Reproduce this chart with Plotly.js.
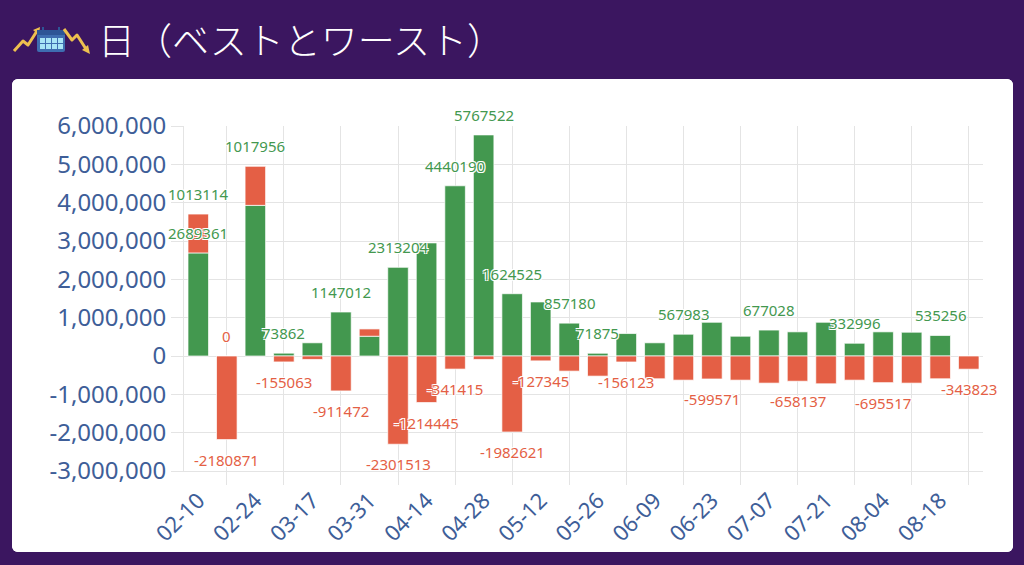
<!DOCTYPE html>
<html>
<head>
<meta charset="utf-8">
<script src="https://cdn.plot.ly/plotly-3.0.1.min.js"></script>
<style>
  body { margin: 0; width: 1024px; height: 565px; overflow: hidden; background: #3b1660; position: relative; }
  #icons { position: absolute; left: 0; top: 0; }
  #title { position: absolute; left: 98px; top: 21px; font-family: "Noto Sans CJK JP", sans-serif; font-size: 37px; line-height: 37px; color: #fff; font-weight: 300; white-space: nowrap; }
  #panel { position: absolute; left: 12px; top: 79px; width: 1001px; height: 473px; background: #fff; border-radius: 6px; overflow: hidden; }
  #chart { width: 1001px; height: 473px; }
</style>
</head>
<body>
<svg id="icons" width="100" height="79">
  <polyline points="14,51 23,41 28,45 37,31" fill="none" stroke="#eec04f" stroke-width="3" stroke-linejoin="round"/>
  <polygon points="40,27 33,30 39,35" fill="#eec04f"/>
  <rect x="37" y="30" width="28" height="22" rx="2" fill="#3e6db0"/>
  <rect x="37" y="30" width="28" height="5" fill="#2d5596"/>
  <rect x="42" y="27" width="2" height="5" fill="#2d5596"/>
  <rect x="58" y="27" width="2" height="5" fill="#2d5596"/>
  <g fill="#a8e4f6">
    <rect x="40" y="38" width="5" height="5"/><rect x="46" y="38" width="5" height="5"/>
    <rect x="52" y="38" width="5" height="5"/><rect x="58" y="38" width="5" height="5"/>
    <rect x="40" y="44" width="5" height="5"/><rect x="46" y="44" width="5" height="5"/>
    <rect x="52" y="44" width="5" height="5"/><rect x="58" y="44" width="5" height="5"/>
  </g>
  <polyline points="64,29 72,40 77,35 86,49" fill="none" stroke="#eec04f" stroke-width="3" stroke-linejoin="round"/>
  <polygon points="90,54 82,50 88,45" fill="#eec04f"/>
</svg>
<div id="title">日（ベストとワースト）</div>
<div id="panel"><div id="chart"></div></div>
<script>
const dates = ['02-10','02-17','02-24','03-10','03-17','03-24','03-31','04-07','04-14','04-21',
  '04-28','05-05','05-12','05-19','05-26','06-02','06-09','06-16','06-23','06-30',
  '07-07','07-14','07-21','07-28','08-04','08-11','08-18','08-25'];

// best / worst of each week
const best = [2689361, 0, 3930000, 73862, 344000, 1147012, 516000, 2313204, 2950000, 4440190,
  5767522, 1624525, 1410000, 857180, 71875, 586000, 344000, 567983, 880000, 516000,
  677028, 630000, 880000, 332996, 630000, 620000, 535256, 0];
const worst = [1013114, -2180871, 1017956, -155063, -90000, -911472, 190000, -2301513, -1214445, -341415,
  -90000, -1982621, -127345, -395000, -525000, -156123, -594000, -630000, -599571, -630000,
  -708000, -658137, -725000, -630000, -695517, -708000, -594000, -343823];

// labels that are visible (others hidden by overlap)
const bestLabelIdx = [0, 1, 3, 5, 7, 9, 10, 11, 13, 14, 17, 20, 23, 26];
const worstLabelIdx = [0, 1, 2, 3, 5, 7, 8, 9, 11, 12, 15, 18, 21, 24, 27];

const yTickVals = [-3000000, -2000000, -1000000, 0, 1000000, 2000000, 3000000, 4000000, 5000000, 6000000];
const yTickText = ['-3,000,000', '-2,000,000', '-1,000,000', '0', '1,000,000', '2,000,000', '3,000,000', '4,000,000', '5,000,000', '6,000,000'];

const GREEN = '#43984f';
const RED = '#e45f45';
const GRID = '#e4e4e4';
const TICK = '#3e5e98';

const labelDates = dates.filter((d, i) => i % 2 === 0);
const gridDates = dates.filter((d, i) => i % 2 === 1);

// end of a segment in the stack (best first, then worst)
function stackEnd(i, which) {
  let pos = 0, neg = 0;
  const segs = [best[i], worst[i]];
  let end = 0;
  for (let k = 0; k <= which; k++) {
    const v = segs[k];
    if (v >= 0) { pos += v; end = pos; } else { neg += v; end = neg; }
  }
  return end;
}

function makeLabel(i, which) {
  const v = which === 0 ? best[i] : worst[i];
  const end = stackEnd(i, which);
  return {
    x: dates[i], y: end, xref: 'x', yref: 'y',
    text: String(v), showarrow: false,
    yshift: v >= 0 ? 20 : -20,
    font: { family: 'Noto Sans', size: 15, color: v > 0 ? GREEN : RED,
      shadow: '1px 1px 0 #fff, -1px -1px 0 #fff, 1px -1px 0 #fff, -1px 1px 0 #fff' }
  };
}

const annotations = bestLabelIdx.map(i => makeLabel(i, 0))
  .concat(worstLabelIdx.map(i => makeLabel(i, 1)));

const traces = [
  { type: 'bar', x: dates, y: best, name: 'best', marker: { color: GREEN, line: { color: 'rgba(255,255,255,0.7)', width: 1 } }, hoverinfo: 'none' },
  { type: 'bar', x: dates, y: worst, name: 'worst', marker: { color: RED, line: { color: 'rgba(255,255,255,0.7)', width: 1 } }, hoverinfo: 'none' },
  // carries the offset grid lines
  { type: 'scatter', mode: 'markers', x: dates, y: dates.map(() => null), xaxis: 'x2', hoverinfo: 'skip', showlegend: false }
];

const layout = {
  width: 1001, height: 473,
  margin: { l: 172, r: 30, t: 47, b: 81 },
  paper_bgcolor: '#fff', plot_bgcolor: '#fff',
  barmode: 'relative', bargap: 0.28,
  showlegend: false, hovermode: false,
  font: { family: 'Noto Sans' },
  xaxis: {
    type: 'category', categoryorder: 'array', categoryarray: dates, range: [-0.5, dates.length - 0.5],
    tickmode: 'array', tickvals: labelDates, ticktext: labelDates, tickangle: -45,
    ticks: 'outside', ticklen: 7, tickcolor: 'rgba(0,0,0,0)',
    tickfont: { family: 'Noto Sans', size: 22, color: TICK },
    showgrid: false, zeroline: false, showline: true, linecolor: GRID, linewidth: 1
  },
  xaxis2: {
    type: 'category', categoryorder: 'array', categoryarray: dates, range: [-0.5, dates.length - 0.5],
    overlaying: 'x', anchor: 'y', side: 'bottom',
    tickmode: 'array', tickvals: gridDates, showticklabels: false,
    ticks: 'outside', ticklen: 13, tickcolor: GRID,
    showgrid: true, gridcolor: GRID, gridwidth: 1, zeroline: false
  },
  yaxis: {
    range: [-3000000, 6000000],
    tickmode: 'array', tickvals: yTickVals, ticktext: yTickText,
    ticks: 'outside', ticklen: 12, tickcolor: GRID,
    tickfont: { family: 'Noto Sans', size: 24, color: TICK },
    showgrid: true, gridcolor: GRID, gridwidth: 1,
    zeroline: false, showline: true, linecolor: GRID, linewidth: 1
  },
  annotations: annotations
};

Plotly.newPlot('chart', traces, layout, { displayModeBar: false, staticPlot: true });
</script>
</body>
</html>
